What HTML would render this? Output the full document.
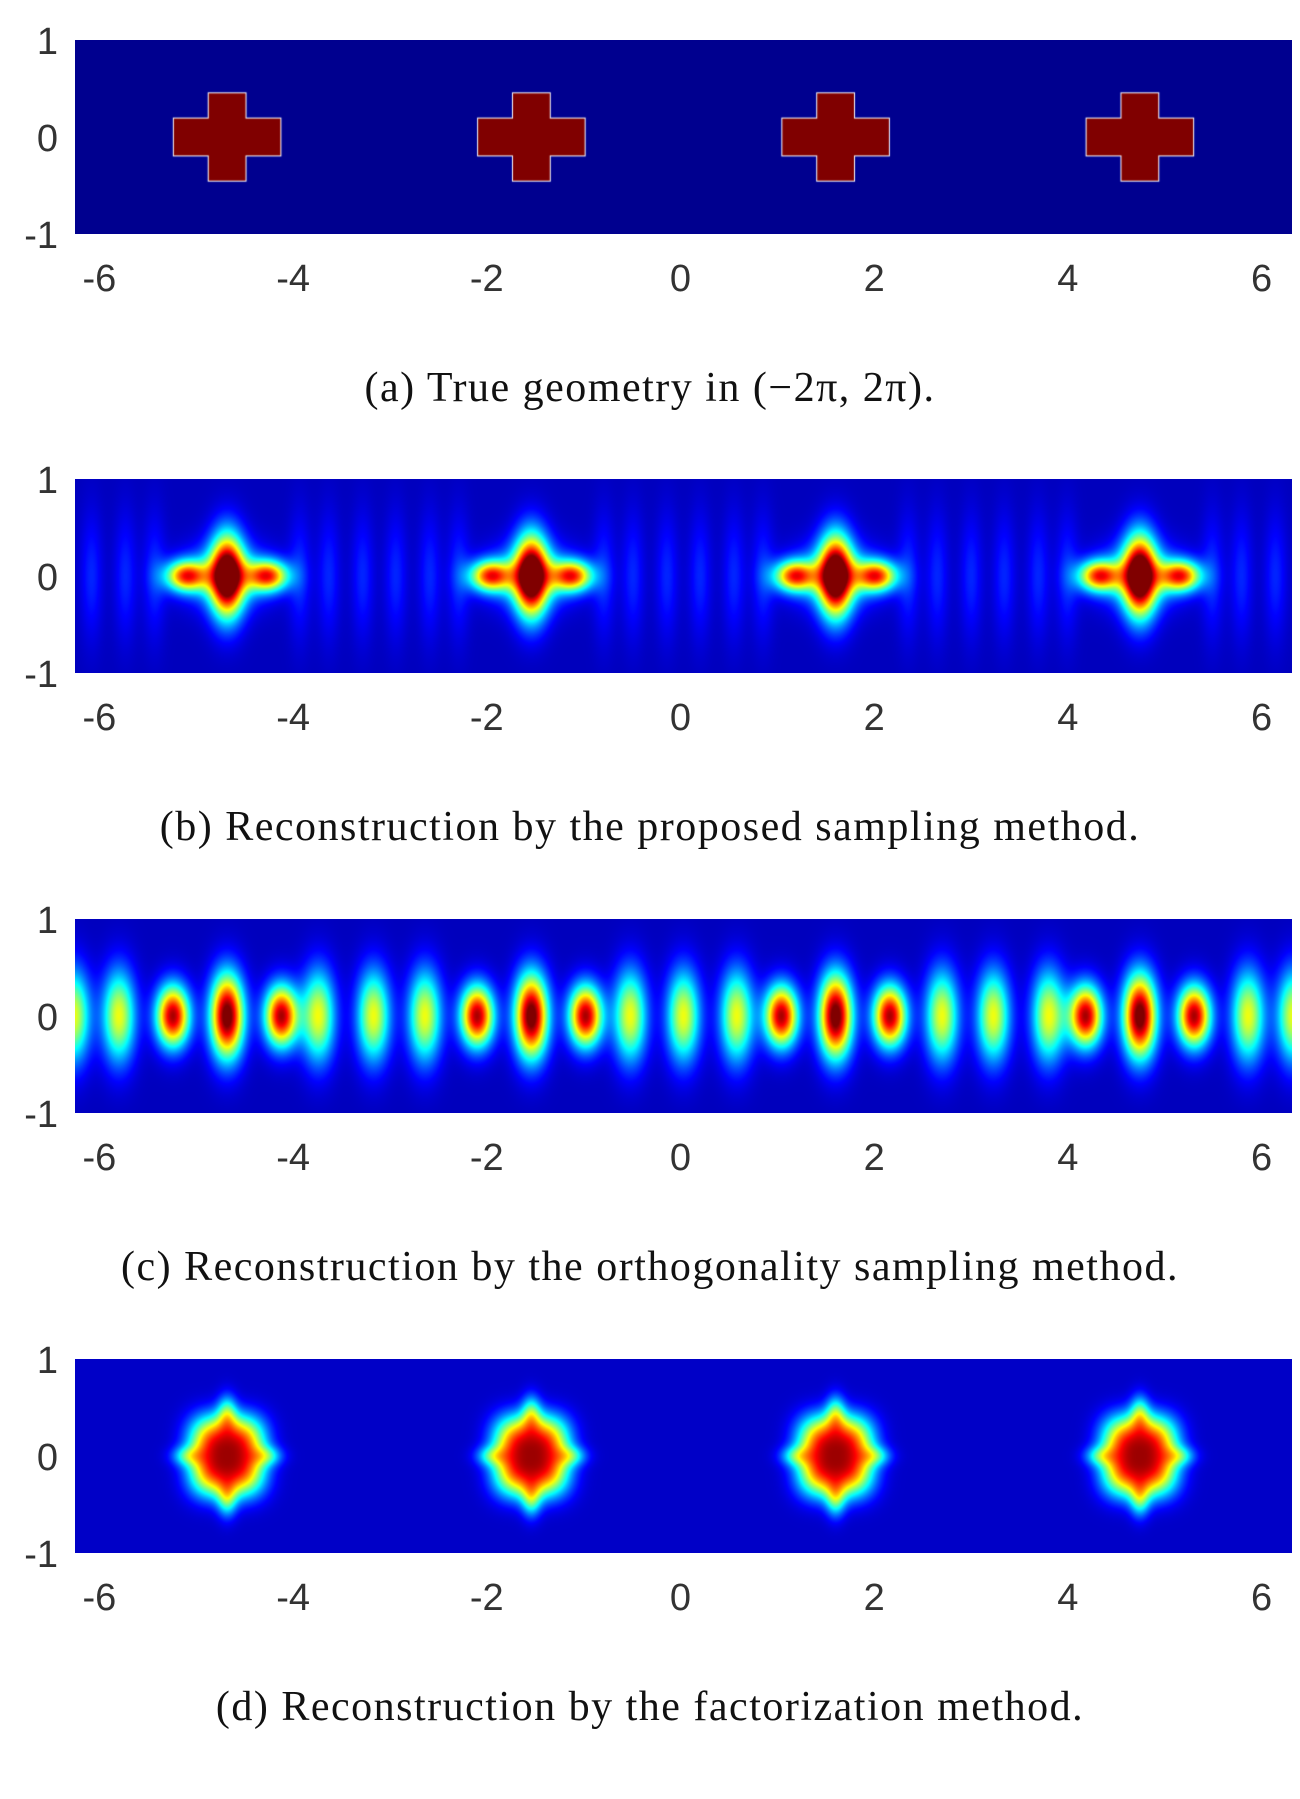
<!DOCTYPE html>
<html><head><meta charset="utf-8">
<style>
body{margin:0;background:#fff;width:1300px;height:1748px;position:relative;overflow:hidden;font-family:"Liberation Sans",sans-serif}
.panel{position:absolute;left:0;width:1300px;height:440px}
canvas{position:absolute;left:75px;top:0}
.yt,.xt{position:absolute;font-size:38px;color:#333;line-height:1}
.yt{width:58px;text-align:right;left:0}
.xt{width:80px;text-align:center}
.cap{position:absolute;left:0;width:1300px;text-align:center;font-family:"Liberation Serif",serif;font-size:42px;letter-spacing:1.5px;color:#111}
</style></head><body>
<div id="root"></div>
<script>
// axis ranges
const xMin=-2*Math.PI, xMax=2*Math.PI, yMin=-1, yMax=1;
const xTicks=[-6,-4,-2,0,2,4,6];
const yTicks=[1,0,-1];
const crossCenters=[-3*Math.PI/2,-Math.PI/2,Math.PI/2,3*Math.PI/2];
// cross geometry (half widths/heights)
const armHalfW=0.55, armHalfH=0.19, stemHalfW=0.19, stemHalfH=0.45;
// panel (b) blobs relative to cross center: [dx,dy,sx,sy,amp]
const blobsB=[[0,0,0.12,0.3,0.95],[-0.42,0,0.15,0.11,0.72],[0.42,0,0.15,0.11,0.72],[0,0,0.3,0.22,0.3]];
const stripesB=[-1.05,-0.75,0.75,1.05,1.4,-1.4];
const stripeAmpB=0.1;
// panel (c)
const blobsC=[[0,0,0.12,0.3,1.0],[-0.56,0,0.12,0.22,0.9],[0.56,0,0.12,0.22,0.9]];
const stripesC=[-6.3,-5.83,-3.77,-3.2,-2.67,-0.55,0,0.55,2.67,3.2,3.77,5.83,6.3];
const stripeAmpC=0.55;
// panel (d)
const blobsD=[[0,0,0.3,0.32,0.9],[0,0.45,0.07,0.13,0.3],[0,-0.45,0.07,0.13,0.3],[-0.42,0,0.11,0.07,0.25],[0.42,0,0.11,0.07,0.25]];
const captions=["(a) True geometry in (\u22122\u03c0, 2\u03c0).","(b) Reconstruction by the proposed sampling method.","(c) Reconstruction by the orthogonality sampling method.","(d) Reconstruction by the factorization method."];
const panelTops=[40,479,919,1359];
const PW=1217, PH=194;
function sx(x){return (x-xMin)/(xMax-xMin)*PW;}
function sy(y){return (yMax-y)/(yMax-yMin)*PH;}
function jet(v){v=Math.max(0,Math.min(1,v));const c=t=>Math.round(255*Math.max(0,Math.min(1,1.5-Math.abs(t))));return [c(4*v-3),c(4*v-2),c(4*v-1)];}
function g(x,y,b,cx){const dx=(x-cx-b[0])/b[2],dy=(y-b[1])/b[3];return b[4]*Math.exp(-(dx*dx+dy*dy)/2);}
function field(k,x,y){
  let v=0.06;
  if(k===1){for(const cx of crossCenters){for(const b of blobsB)v+=g(x,y,b,cx);}
    for(const cx of crossCenters)for(const s of stripesB){const dx=(x-cx-s)/0.08,dy=y/0.45;v+=stripeAmpB*Math.exp(-(dx*dx+dy*dy)/2);}
  } else if(k===2){v=0.06;for(const cx of crossCenters)for(const b of blobsC)v+=g(x,y,b,cx);
    for(const s of stripesC){const dx=(x-s)/0.12,dy=y/0.33;v+=stripeAmpC*Math.exp(-(dx*dx+dy*dy)/2);}
  } else {v=0.07;for(const cx of crossCenters)for(const b of blobsD){if(b===blobsD[0]){const dx=(x-cx)/b[2],dy=y/b[3];v+=b[4]*Math.exp(-(Math.pow(dx*dx,1.5)+Math.pow(dy*dy,1.5))/2);}else v+=g(x,y,b,cx);}}
  return Math.min(v,1);
}
const root=document.getElementById('root');
for(let k=0;k<4;k++){
  const p=document.createElement('div');p.className='panel';p.style.top=panelTops[k]+'px';
  
  
  const cv=document.createElement('canvas');cv.width=PW;cv.height=PH;
  
  
  const ctx=cv.getContext('2d');
  if(k===0){
    ctx.fillStyle='#00008f';ctx.fillRect(0,0,PW,PH);
    for(const cx of crossCenters){
      ctx.fillStyle='#ffffff';
      ctx.fillRect(sx(cx-armHalfW)-1,sy(armHalfH)-1,sx(cx+armHalfW)-sx(cx-armHalfW)+2,sy(-armHalfH)-sy(armHalfH)+2);
      ctx.fillRect(sx(cx-stemHalfW)-1,sy(stemHalfH)-1,sx(cx+stemHalfW)-sx(cx-stemHalfW)+2,sy(-stemHalfH)-sy(stemHalfH)+2);
      ctx.fillStyle='#800000';
      ctx.fillRect(sx(cx-armHalfW),sy(armHalfH),sx(cx+armHalfW)-sx(cx-armHalfW),sy(-armHalfH)-sy(armHalfH));
      ctx.fillRect(sx(cx-stemHalfW),sy(stemHalfH),sx(cx+stemHalfW)-sx(cx-stemHalfW),sy(-stemHalfH)-sy(stemHalfH));
    }
  } else {
    const img=ctx.createImageData(PW,PH);
    for(let j=0;j<PH;j++){const y=yMax-(j+0.5)/PH*(yMax-yMin);
      for(let i=0;i<PW;i++){const x=xMin+(i+0.5)/PW*(xMax-xMin);
        const c=jet(field(k,x,y));const o=(j*PW+i)*4;img.data[o]=c[0];img.data[o+1]=c[1];img.data[o+2]=c[2];img.data[o+3]=255;}}
    ctx.putImageData(img,0,0);
  }
  p.appendChild(cv);
  for(const t of yTicks){const d=document.createElement('div');d.className='yt';d.textContent=t;
    d.style.top=(sy(t)-17)+'px';
    
    
    p.appendChild(d);}
  for(const t of xTicks){const d=document.createElement('div');d.className='xt';d.textContent=t;
    d.style.left=(75+sx(t)-40-3)+'px';d.style.top='220px';
    
    
    p.appendChild(d);}
  const c=document.createElement('div');c.className='cap';c.textContent=captions[k];c.style.top='324px';
  
  
  p.appendChild(c);
  root.appendChild(p);
}
</script>
</body></html>
